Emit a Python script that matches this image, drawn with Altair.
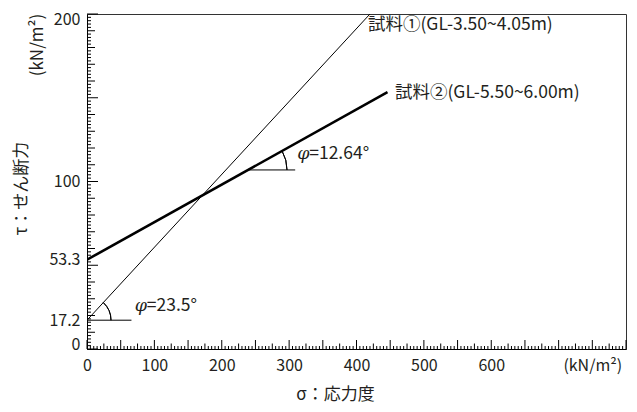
import math
import altair as alt
import pandas as pd

FONT = "Noto Sans CJK JP"
TXT = "#231f20"
FS = 17.5     # annotation text
FSL = 16      # tick labels
FST = 17      # axis titles
TICK_COLOR = "black"

# ---- data ----
series = ["試料①(GL-3.50~4.05m)", "試料②(GL-5.50~6.00m)"]
phi_deg = [23.5, 12.64]
phi_text = ["=23.5°", "=12.64°"]
line_sigma0 = [0, 0]
line_tau0 = [17.2, 53.3]
line_sigma1 = [420, 446]
line_tau1 = [200, 153.3]
line_width = [1.0, 2.6]

# horizontal reference rules for the angle marks
ref_tau = [17.2, 106.9]
ref_sigma0 = [0, 239]
ref_sigma1 = [66, 309]
arc_radius = [24, 39]

# annotation anchors (data coords)
lab_sigma = [417, 457]
lab_tau = [193.5, 153.0]
phi_sigma = [71, 312]
phi_tau = [25.5, 116.5]

x_tick_vals = [0, 100, 200, 300, 400, 500, 600]
x_unit_pos = 750
y_tick_vals = [0, 17.2, 53.3, 100, 200]
x_minor = list(range(0, 801, 5))
y_minor = list(range(0, 201, 2))

W, H = 539, 335
XMAX, YMAX = 800, 200

xs = alt.Scale(domain=[0, XMAX], nice=False, zero=False)
ys = alt.Scale(domain=[0, YMAX], nice=False, zero=False)

xaxis = alt.Axis(
    values=x_tick_vals + [x_unit_pos],
    labelExpr=f"datum.value == {x_unit_pos} ? '(kN/m²)' : datum.label",
    ticks=False, grid=False, domainColor="black", domainWidth=1,
    labelFont=FONT, labelFontSize=FSL, labelColor=TXT, labelPadding=16,
    labelBaseline="middle", labelFlush=False, labelOverlap=False,
    title="σ：応力度", titleFont=FONT, titleFontSize=FST, titleFontWeight="normal",
    titleColor=TXT, titleX=248, titleY=45, titleAlign="center", titleBaseline="middle",
)
yaxis = alt.Axis(
    values=y_tick_vals, labelExpr="'' + datum.value",
    ticks=False, grid=False, domainColor="black", domainWidth=1,
    labelFont=FONT, labelFontSize=FSL, labelColor=TXT, labelPadding=7,
    labelOverlap=False, labelFlush=True, labelFlushOffset=3,
    title="τ：せん断力", titleFont=FONT, titleFontSize=FST, titleFontWeight="normal",
    titleColor=TXT, titleX=-66, titleY=174, titleAngle=270,
    titleAlign="center", titleBaseline="middle",
)


def X(f):
    return alt.X(f"{f}:Q", scale=xs, axis=xaxis)


def Y(f):
    return alt.Y(f"{f}:Q", scale=ys, axis=yaxis)


rows = []
for s, a, b, c, d in zip(series, line_sigma0, line_tau0, line_sigma1, line_tau1):
    rows.append({"series": s, "sigma": a, "tau": b, "order": 0})
    rows.append({"series": s, "sigma": c, "tau": d, "order": 1})
df_lines = pd.DataFrame(rows)

lines = alt.Chart(df_lines).mark_line(color="black", clip=True).encode(
    x=X("sigma"), y=Y("tau"), detail="series:N", order="order:Q",
    strokeWidth=alt.StrokeWidth("series:N", scale=alt.Scale(domain=series, range=line_width), legend=None),
)

df_ref = pd.DataFrame({"tau": ref_tau, "s0": ref_sigma0, "s1": ref_sigma1})
refs = alt.Chart(df_ref).mark_rule(color="black", strokeWidth=1).encode(
    x=X("s0"), x2="s1", y=Y("tau"),
)

# arcs between horizontal rule and each line (visual angle from slope)
arcs = []
px_x = W / XMAX
px_y = H / YMAX
for i in range(2):
    vis = math.atan(math.tan(math.radians(phi_deg[i])) * px_y / px_x)
    dfa = pd.DataFrame({"sigma": [ref_sigma0[i]], "tau": [ref_tau[i]]})
    arcs.append(
        alt.Chart(dfa).mark_arc(
            theta=math.pi / 2 - vis, theta2=math.pi / 2,
            radius=arc_radius[i], radius2=arc_radius[i],
            fillOpacity=0, stroke="black", strokeWidth=1,
        ).encode(x=X("sigma"), y=Y("tau"))
    )

df_lab = pd.DataFrame({"sigma": lab_sigma, "tau": lab_tau, "text": series})
labels = alt.Chart(df_lab).mark_text(
    align="left", baseline="middle", font=FONT, fontSize=FS, color=TXT
).encode(x=X("sigma"), y=Y("tau"), text="text:N")

df_phi = pd.DataFrame({"sigma": phi_sigma, "tau": phi_tau, "text": phi_text})
phis = alt.Chart(df_phi).mark_text(
    align="left", baseline="middle", font="DejaVu Serif", fontStyle="italic",
    fontSize=FS, color=TXT
).encode(x=X("sigma"), y=Y("tau"), text=alt.value("φ"))
phis_rest = alt.Chart(df_phi).mark_text(
    align="left", baseline="middle", font=FONT, fontSize=FS, color=TXT, dx=12
).encode(x=X("sigma"), y=Y("tau"), text="text:N")

# inward ticks drawn as short rules
df_xt = pd.DataFrame({"v": x_minor})
df_yt = pd.DataFrame({"v": y_minor})
xt = []
for cond, L in [("datum.v % 25 != 0", 3), ("datum.v % 25 == 0 && datum.v % 50 != 0", 5.5), ("datum.v % 50 == 0", 9)]:
    xt.append(alt.Chart(df_xt).transform_filter(cond).mark_rule(
        color=TICK_COLOR, strokeWidth=1).encode(
        x=X("v"), y=alt.value(H), y2=alt.value(H - L)))
yt = []
for cond, L in [("datum.v % 10 != 0", 4), ("datum.v % 10 == 0 && datum.v % 50 != 0", 8), ("datum.v % 50 == 0", 11)]:
    yt.append(alt.Chart(df_yt).transform_filter(cond).mark_rule(
        color=TICK_COLOR, strokeWidth=1).encode(
        y=Y("v"), x=alt.value(0), x2=alt.value(L)))

yunit = alt.Chart(pd.DataFrame({"t": ["(kN/m²)"]})).mark_text(
    angle=270, font=FONT, fontSize=FST, color=TXT, align="center", baseline="middle"
).encode(x=alt.value(-49), y=alt.value(31), text="t:N")

chart = alt.layer(*xt, *yt, refs, *arcs, lines, labels, phis, phis_rest, yunit).properties(
    width=W, height=H,
    padding={"left": 79, "top": 6, "right": 3, "bottom": 55},
    autosize="none",
).configure_view(stroke="#333", strokeWidth=1)

chart.save("out.html", embed_options={"renderer": "svg", "actions": False})
